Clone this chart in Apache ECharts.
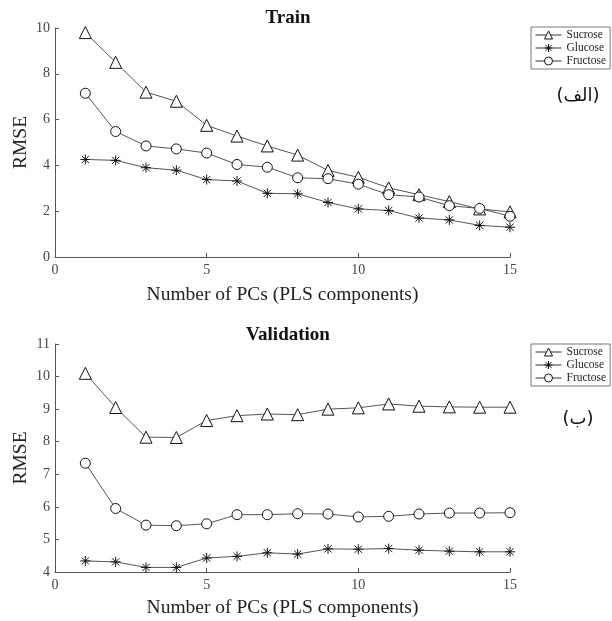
<!DOCTYPE html>
<html lang="en" style="height: 100%">
<head>
    <meta charset="UTF-8">
    <script src="https://cdn.jsdelivr.net/npm/echarts@6/dist/echarts.min.js"></script>
</head>
<body style="height: 100%; margin: 0; background: #fff">
<div id="container" style="width: 612px; height: 621px"></div>
<script>
    // number of PLS components
    var pcs = [1, 2, 3, 4, 5, 6, 7, 8, 9, 10, 11, 12, 13, 14, 15];
    var xTicks = [0, 5, 10, 15];

    // Train RMSE
    var trainSucrose  = [9.8, 8.5, 7.2, 6.8, 5.75, 5.28, 4.85, 4.45, 3.78, 3.48, 3.02, 2.72, 2.42, 2.1, 1.97];
    var trainGlucose  = [4.26, 4.22, 3.9, 3.79, 3.38, 3.32, 2.78, 2.76, 2.38, 2.1, 2.03, 1.7, 1.62, 1.38, 1.3];
    var trainFructose = [7.15, 5.48, 4.85, 4.72, 4.54, 4.04, 3.92, 3.46, 3.42, 3.18, 2.72, 2.62, 2.24, 2.12, 1.78];

    // Validation RMSE
    var valSucrose  = [10.1, 9.05, 8.14, 8.13, 8.65, 8.8, 8.85, 8.83, 9.0, 9.04, 9.16, 9.09, 9.07, 9.06, 9.06];
    var valGlucose  = [4.34, 4.31, 4.14, 4.14, 4.43, 4.48, 4.59, 4.55, 4.71, 4.7, 4.72, 4.67, 4.64, 4.62, 4.62];
    var valFructose = [7.34, 5.95, 5.44, 5.42, 5.48, 5.76, 5.76, 5.79, 5.78, 5.69, 5.71, 5.78, 5.81, 5.81, 5.82];

    var names = ['Sucrose', 'Glucose', 'Fructose'];

    var serif = 'Liberation Serif';
    var star = 'path://M0,-1L0,1M-1,0L1,0M-0.72,-0.72L0.72,0.72M-0.72,0.72L0.72,-0.72';
    var symbols = ['triangle', star, 'circle'];
    var sizes = [12, 10, 10];

    function pairs(arr) {
        return arr.map(function (v, i) { return [pcs[i], v]; });
    }

    function mkSeries(name, idx, arr, k) {
        return {
            name: name,
            type: 'line',
            xAxisIndex: idx,
            yAxisIndex: idx,
            data: pairs(arr),
            symbol: symbols[k],
            symbolSize: sizes[k],
            showAllSymbol: true,
            animation: false,
            lineStyle: {color: '#555', width: 1},
            itemStyle: {color: '#fff', borderColor: '#111', borderWidth: 1}
        };
    }

    function mkX(idx) {
        return {
            type: 'value', gridIndex: idx, min: 0, max: 15, interval: 5,
            name: 'Number of PCs (PLS components)',
            nameLocation: 'middle', nameGap: idx === 0 ? 28 : 26,
            nameMoveOverlap: false,
            nameTextStyle: {fontFamily: serif, fontSize: 19.5, color: '#222'},
            axisLine: {lineStyle: {color: '#555', width: 1}},
            axisTick: {inside: true, length: 4, lineStyle: {color: '#555'}},
            axisLabel: {fontFamily: serif, fontSize: 14, color: '#444', margin: 6},
            splitLine: {show: false}
        };
    }

    function mkY(idx, min, max, step) {
        return {
            type: 'value', gridIndex: idx, min: min, max: max, interval: step,
            name: 'RMSE', nameLocation: 'middle', nameGap: 24, nameRotate: 90,
            nameMoveOverlap: false,
            nameTextStyle: {fontFamily: serif, fontSize: 19.5, color: '#222'},
            axisLine: {show: true, lineStyle: {color: '#555', width: 1}},
            axisTick: {show: true, inside: true, length: 4, lineStyle: {color: '#555'}},
            axisLabel: {fontFamily: serif, fontSize: 14, color: '#444', margin: 5},
            splitLine: {show: false}
        };
    }

    function mkLegend(top) {
        return {
            data: names, orient: 'vertical', left: 531, top: top,
            itemWidth: 26, itemHeight: 10, itemGap: 1,
            padding: [2, 4, 2, 4],
            borderColor: '#777', borderWidth: 1, backgroundColor: '#fff',
            itemStyle: {color: '#fff', borderColor: '#111', borderWidth: 1},
            lineStyle: {color: '#333', width: 1},
            textStyle: {fontFamily: serif, fontSize: 11.5, color: '#222'}
        };
    }

    var chart = echarts.init(document.getElementById('container'));
    var option = {
        backgroundColor: '#fff',
        title: [
            {text: 'Train', left: 283, top: 4, textAlign: 'center',
             textStyle: {fontFamily: serif, fontSize: 19, fontWeight: 'bold', color: '#111'}},
            {text: 'Validation', left: 283, top: 321, textAlign: 'center',
             textStyle: {fontFamily: serif, fontSize: 19, fontWeight: 'bold', color: '#111'}},
            {text: '(الف)', left: 573, top: 82, textAlign: 'center',
             textStyle: {fontFamily: 'DejaVu Sans', fontSize: 18, fontWeight: 'normal', color: '#111'}},
            {text: '(ب)', left: 573, top: 405, textAlign: 'center',
             textStyle: {fontFamily: 'DejaVu Sans', fontSize: 18, fontWeight: 'normal', color: '#111'}}
        ],
        legend: [mkLegend(27), mkLegend(344)],
        grid: [
            {left: 55, right: 102, top: 28, height: 229},
            {left: 55, right: 102, top: 344, height: 228}
        ],
        xAxis: [mkX(0), mkX(1)],
        yAxis: [mkY(0, 0, 10, 2), mkY(1, 4, 11, 1)],
        series: [
            mkSeries(names[0], 0, trainSucrose, 0),
            mkSeries(names[1], 0, trainGlucose, 1),
            mkSeries(names[2], 0, trainFructose, 2),
            mkSeries(names[0], 1, valSucrose, 0),
            mkSeries(names[1], 1, valGlucose, 1),
            mkSeries(names[2], 1, valFructose, 2)
        ]
    };
    chart.setOption(option);
</script>
</body>
</html>
